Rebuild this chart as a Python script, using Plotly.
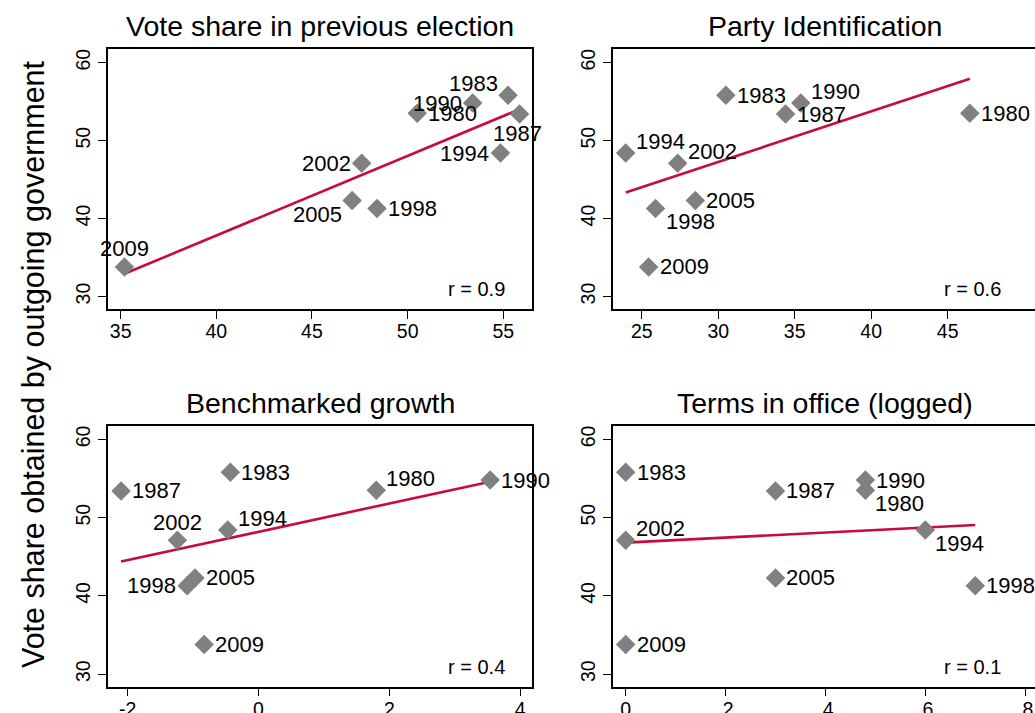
import numpy as np
import plotly.graph_objects as go

# ---------------- data ----------------
years = ["1980", "1983", "1987", "1990", "1994", "1998", "2002", "2005", "2009"]
vote_share = [53.5, 55.8, 53.4, 54.8, 48.4, 41.3, 47.1, 42.3, 33.8]

prev_vote = [50.5, 55.25, 55.85, 53.4, 54.85, 48.4, 47.6, 47.1, 35.2]
party_id = [46.45, 30.5, 34.4, 35.4, 23.95, 25.9, 27.35, 28.5, 25.45]
growth = [1.80, -0.43, -2.10, 3.54, -0.47, -1.09, -1.24, -0.97, -0.83]
terms_logged = [0.48, 0.0, 0.30, 0.48, 0.60, 0.70, 0.0, 0.30, 0.0]

panel_titles = ["Vote share in previous election", "Party Identification",
                "Benchmarked growth", "Terms in office (logged)"]
r_labels = ["r = 0.9", "r = 0.6", "r = 0.4", "r = 0.1"]

y_tickvals = [30, 40, 50, 60]
x_tickvals = [[35, 40, 45, 50, 55], [25, 30, 35, 40, 45], [-2, 0, 2, 4], [0, 0.2, 0.4, 0.6, 0.8]]
x_ticktext = [["35", "40", "45", "50", "55"], ["25", "30", "35", "40", "45"],
              ["-2", "0", "2", "4"], ["0", ".2", ".4", ".6", ".8"]]

# ---------------- style ----------------
# Stata-like clock positions of the marker labels, per panel (order = years)
label_clock = [
    [3, 11, 6, 9, 9, 3, 9, 7, 12],
    [3, 3, 3, 1, 1, 5, 1, 3, 3],
    [1, 3, 3, 3, 1, 9, 12, 3, 3],
    [5, 3, 3, 3, 5, 3, 1, 3, 3],
]
x_ranges = [[34.34, 56.5], [23.1, 50.71], [-2.30, 4.18], [-0.026, 0.8197]]
y_range = [28.4, 61.7]

W, H = 1035, 713
col_dom = [[108 / W, 532 / W], [612.7 / W, 1.0]]
col_center = [320 / W, 824.7 / W]
row_dom = [[1 - 309 / H, 1 - 49.3 / H], [1 - 686.7 / H, 1 - 426 / H]]

FONT = "Liberation Sans, Arial, Helvetica, sans-serif"
MARKER_COLOR = "#808080"
LINE_COLOR = "#c80a3c"

clock = {
    3: ("left", "middle", 9, 0),
    9: ("right", "middle", -9, 0),
    12: ("center", "middle", 0, 18),
    6: ("center", "middle", -2, -19),
    1: ("left", "middle", 8, 12),
    5: ("left", "middle", 8, -13),
    11: ("right", "middle", -8, 12),
    7: ("right", "middle", -8, -14),
}

xs_all = [prev_vote, party_id, growth, terms_logged]

fig = go.Figure()
annotations = []

for i in range(4):
    r, c = divmod(i, 2)
    ax = "" if i == 0 else str(i + 1)
    xref, yref = "x" + ax, "y" + ax
    xs = np.array(xs_all[i], dtype=float)
    ys = np.array(vote_share, dtype=float)

    # linear fit (Stata lfit)
    b, a = np.polyfit(xs, ys, 1)
    fx = np.array([xs.min(), xs.max()])
    fig.add_trace(go.Scatter(x=fx, y=a + b * fx, mode="lines",
                             line=dict(color=LINE_COLOR, width=2.6),
                             xaxis=xref, yaxis=yref, showlegend=False, hoverinfo="skip"))
    fig.add_trace(go.Scatter(x=xs, y=ys, mode="markers",
                             marker=dict(symbol="diamond", size=15, color=MARKER_COLOR,
                                         line=dict(width=0)),
                             xaxis=xref, yaxis=yref, showlegend=False, cliponaxis=False))

    for k, yr in enumerate(years):
        xa, ya, dx, dy = clock[label_clock[i][k]]
        annotations.append(dict(x=xs[k], y=ys[k], xref=xref, yref=yref, text=yr,
                                showarrow=False, xanchor=xa, yanchor=ya,
                                xshift=dx, yshift=dy,
                                font=dict(family=FONT, size=22, color="black")))

    axis_x = dict(domain=col_dom[c], range=x_ranges[i], anchor=yref, automargin=False,
                  tickvals=x_tickvals[i], ticktext=x_ticktext[i],
                  ticks="outside", ticklen=8, tickwidth=1.3, tickcolor="black",
                  ticklabelstandoff=-4,
                  showline=True, linecolor="black", linewidth=1.5, mirror=True,
                  showgrid=False, zeroline=False,
                  tickfont=dict(family=FONT, size=19.5, color="black"))
    axis_y = dict(domain=row_dom[r], range=y_range, anchor=xref, automargin=False,
                  tickvals=y_tickvals, tickangle=-90,
                  ticks="outside", ticklen=8, tickwidth=1.3, tickcolor="black",
                  showline=True, linecolor="black", linewidth=1.5,
                  mirror=(c == 0),
                  showgrid=False, zeroline=False,
                  tickfont=dict(family=FONT, size=19.5, color="black"))
    fig.layout["xaxis" + ax] = axis_x
    fig.layout["yaxis" + ax] = axis_y

    # panel title
    annotations.append(dict(x=col_center[c], y=row_dom[r][1], xref="paper", yref="paper",
                            text=panel_titles[i], showarrow=False,
                            xanchor="center", yanchor="bottom", yshift=5,
                            font=dict(family=FONT, size=28.5, color="black")))
    # correlation text
    annotations.append(dict(x=0.94 if c == 0 else 0.925, y=0.076,
                            xref=xref + " domain", yref=yref + " domain",
                            text=r_labels[i], showarrow=False,
                            xanchor="right", yanchor="middle",
                            font=dict(family=FONT, size=20, color="black")))

# common y title
annotations.append(dict(x=33 / W, y=1 - 364 / H, xref="paper", yref="paper",
                        text="Vote share obtained by outgoing government",
                        textangle=-90, showarrow=False,
                        xanchor="center", yanchor="middle",
                        font=dict(family=FONT, size=30.5, color="black")))

fig.update_layout(width=W, height=H, margin=dict(l=0, r=0, t=0, b=0, autoexpand=False),
                  paper_bgcolor="white", plot_bgcolor="white",
                  annotations=annotations,
                  font=dict(family=FONT, color="black"))

page_fix = (
    "var s=document.documentElement.style; s.margin='0'; s.padding='0'; s.overflow='hidden';"
    "var b=document.body.style; b.margin='0'; b.padding='0'; b.overflow='hidden';"
)
fig.write_html("out.html", config={"displayModeBar": False}, post_script=page_fix)
